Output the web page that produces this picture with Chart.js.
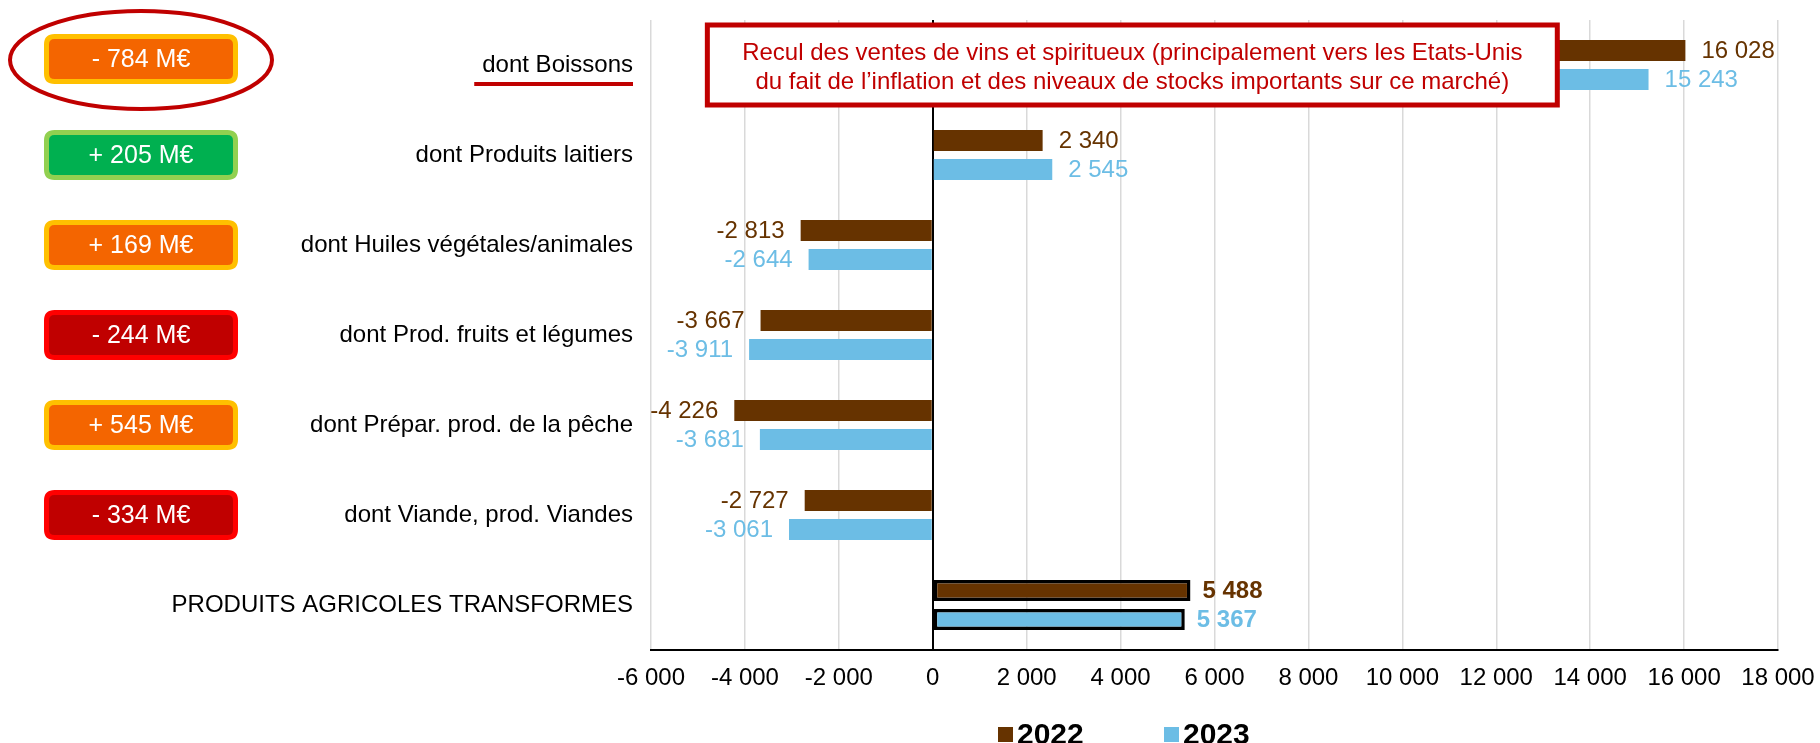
<!DOCTYPE html>
<html lang="fr">
<head>
<meta charset="utf-8">
<title>Produits agricoles transformés 2022-2023</title>
<script src="https://cdn.jsdelivr.net/npm/chart.js@4/dist/chart.umd.min.js"></script>
<style>
    html, body { margin: 0; padding: 0; background: #fff; overflow: hidden; }
    #wrap { width: 1820px; height: 743px; }
</style>
</head>
<body>
<div id="wrap"><canvas id="chart" width="1820" height="743"></canvas></div>
<script>
// Solde commercial par famille de produits (M€)

const categories = [
    'dont Boissons',
    'dont Produits laitiers',
    'dont Huiles végétales/animales',
    'dont Prod. fruits et légumes',
    'dont Prépar. prod. de la pêche',
    'dont Viande, prod. Viandes',
    'PRODUITS AGRICOLES TRANSFORMES'
];
const years = ['2022', '2023'];
const values2022 = [16028, 2340, -2813, -3667, -4226, -2727, 5488];
const values2023 = [15243, 2545, -2644, -3911, -3681, -3061, 5367];

// variation 2023 / 2022 affichée à gauche
const variations = ['- 784 M€', '+ 205 M€', '+ 169 M€', '- 244 M€', '+ 545 M€', '- 334 M€'];
const variationKinds = ['orange', 'green', 'orange', 'red', 'orange', 'red'];

const xTicksMin = -6000;
const xTicksMax = 18000;
const xTicksStep = 2000;

const noteLines = [
    'Recul des ventes de vins et spiritueux (principalement vers les Etats-Unis',
    'du fait de l\u2019inflation et des niveaux de stocks importants sur ce marché)'
];

const COLOR_2022 = '#663300';
const COLOR_2023 = '#6CBDE5';
const DARK_RED = '#C00000';
const FONT = '"Liberation Sans", Arial, sans-serif';
const totalIndex = categories.length - 1;

const boxStyles = {
    orange: { fill: '#F46500', border: '#FFC000' },
    green: { fill: '#00B050', border: '#92D050' },
    red: { fill: '#C00000', border: '#FF0000' }
};

function formatNumber(v) {
    const s = String(Math.abs(v)).replace(/\B(?=(\d{3})+(?!\d))/g, ' ');
    return (v < 0 ? '-' : '') + s;
}

function roundRect(ctx, x, y, w, h, r) {
    ctx.beginPath();
    ctx.moveTo(x + r, y);
    ctx.lineTo(x + w - r, y);
    ctx.quadraticCurveTo(x + w, y, x + w, y + r);
    ctx.lineTo(x + w, y + h - r);
    ctx.quadraticCurveTo(x + w, y + h, x + w - r, y + h);
    ctx.lineTo(x + r, y + h);
    ctx.quadraticCurveTo(x, y + h, x, y + h - r);
    ctx.lineTo(x, y + r);
    ctx.quadraticCurveTo(x, y, x + r, y);
    ctx.closePath();
}

// étiquettes de valeurs au bout des barres
const valueLabels = {
    id: 'valueLabels',
    afterDatasetsDraw(chart) {
        const ctx = chart.ctx;
        ctx.save();
        ctx.textBaseline = 'middle';
        chart.data.datasets.forEach((ds, di) => {
            const meta = chart.getDatasetMeta(di);
            meta.data.forEach((bar, i) => {
                const v = ds.data[i];
                const bold = i === totalIndex;
                ctx.font = (bold ? 'bold ' : '') + '24px ' + FONT;
                ctx.fillStyle = ds.backgroundColor;
                if (v >= 0) {
                    ctx.textAlign = 'left';
                    ctx.fillText(formatNumber(v), bar.x + (bold ? 12 : 16), bar.y + 1);
                } else {
                    ctx.textAlign = 'right';
                    ctx.fillText(formatNumber(v), bar.x - 16, bar.y + 1);
                }
            });
        });
        ctx.restore();
    }
};

// pastilles de variation, encadré, légende
const decorations = {
    id: 'decorations',
    afterDraw(chart) {
        const ctx = chart.ctx;
        const yScale = chart.scales.y;
        const xScale = chart.scales.x;
        const area = chart.chartArea;
        ctx.save();

        // pastilles
        const boxLeft = 44, boxW = 194, boxH = 50;
        variations.forEach((txt, i) => {
            const cy = yScale.getPixelForValue(i) + (i === 0 ? -6 : 0);
            const st = boxStyles[variationKinds[i]];
            roundRect(ctx, boxLeft + 2.5, cy - boxH / 2 + 2.5, boxW - 5, boxH - 5, 8);
            ctx.fillStyle = st.fill;
            ctx.fill();
            ctx.lineWidth = 5;
            ctx.strokeStyle = st.border;
            ctx.stroke();
            ctx.fillStyle = '#fff';
            ctx.font = '25px ' + FONT;
            ctx.textAlign = 'center';
            ctx.textBaseline = 'middle';
            ctx.fillText(txt, boxLeft + boxW / 2, cy + 1);

            if (i === 0) {
                // ellipse autour de la première pastille
                ctx.beginPath();
                ctx.ellipse(boxLeft + boxW / 2, cy + 1, boxW / 2 + 34, boxH / 2 + 24, 0, 0, Math.PI * 2);
                ctx.lineWidth = 4;
                ctx.strokeStyle = DARK_RED;
                ctx.stroke();
            }
        });

        // soulignement de "dont Boissons"
        ctx.font = '24px ' + FONT;
        const labelRight = yScale.right - 18;
        const lw = ctx.measureText(categories[0]).width;
        const uy = yScale.getPixelForValue(0) + 19;
        ctx.fillStyle = DARK_RED;
        ctx.fillRect(labelRight - lw - 8, uy - 2, lw + 8, 4);

        // encadré explicatif
        const nx1 = xScale.getPixelForValue(-4800);
        const nx2 = xScale.getPixelForValue(13300);
        const ny1 = area.top + 5;
        const ny2 = area.top + 85;
        ctx.fillStyle = '#fff';
        ctx.fillRect(nx1, ny1, nx2 - nx1, ny2 - ny1);
        ctx.lineWidth = 5;
        ctx.strokeStyle = DARK_RED;
        ctx.strokeRect(nx1, ny1, nx2 - nx1, ny2 - ny1);
        ctx.fillStyle = DARK_RED;
        ctx.font = '24px ' + FONT;
        ctx.textAlign = 'center';
        ctx.textBaseline = 'middle';
        const ncx = (nx1 + nx2) / 2;
        ctx.fillText(noteLines[0], ncx, ny1 + 28);
        ctx.fillText(noteLines[1], ncx, ny1 + 57);

        // légende
        ctx.font = 'bold 30px ' + FONT;
        ctx.textAlign = 'left';
        ctx.textBaseline = 'alphabetic';
        let lx = 998;
        chart.data.datasets.forEach((ds) => {
            ctx.fillStyle = ds.backgroundColor;
            ctx.fillRect(lx, 727, 15, 15);
            ctx.fillStyle = '#000';
            ctx.fillText(ds.label, lx + 19, 744);
            lx += 166;
        });

        ctx.restore();
    }
};

const ctx = document.getElementById('chart').getContext('2d');
new Chart(ctx, {
    type: 'bar',
    data: {
        labels: categories,
        datasets: [
            {
                label: years[0],
                data: values2022,
                backgroundColor: COLOR_2022,
                borderColor: '#000',
                borderWidth: c => (c.dataIndex === totalIndex ? 3.5 : 0),
                borderSkipped: false,
                categoryPercentage: 0.644,
                barPercentage: 0.72
            },
            {
                label: years[1],
                data: values2023,
                backgroundColor: COLOR_2023,
                borderColor: '#000',
                borderWidth: c => (c.dataIndex === totalIndex ? 3.5 : 0),
                borderSkipped: false,
                categoryPercentage: 0.644,
                barPercentage: 0.72
            }
        ]
    },
    options: {
        indexAxis: 'y',
        responsive: false,
        devicePixelRatio: 1,
        animation: false,
        layout: {
            padding: { top: 20, right: 42, bottom: 0, left: 0 }
        },
        scales: {
            x: {
                min: xTicksMin,
                max: xTicksMax,
                ticks: {
                    stepSize: xTicksStep,
                    color: '#000',
                    padding: 14,
                    font: { family: FONT, size: 24 },
                    callback: v => formatNumber(v)
                },
                grid: {
                    drawTicks: false,
                    color: c => (c.tick && c.tick.value === 0 ? '#000' : '#D9D9D9'),
                    lineWidth: c => (c.tick && c.tick.value === 0 ? 2 : 1.5)
                },
                border: { display: true, color: '#000', width: 2 },
                afterFit: s => {
                    s.height = 93;
                    s.paddingLeft = 0;
                    s.paddingRight = 0;
                }
            },
            y: {
                grid: { display: false, drawTicks: false },
                border: { display: false },
                ticks: {
                    color: '#000',
                    padding: 18,
                    font: { family: FONT, size: 24 }
                },
                afterFit: s => {
                    s.width = 651;
                    s.paddingTop = 0;
                    s.paddingBottom = 0;
                }
            }
        },
        plugins: {
            legend: { display: false },
            tooltip: { enabled: false }
        }
    },
    plugins: [valueLabels, decorations]
});
</script>
</body>
</html>
